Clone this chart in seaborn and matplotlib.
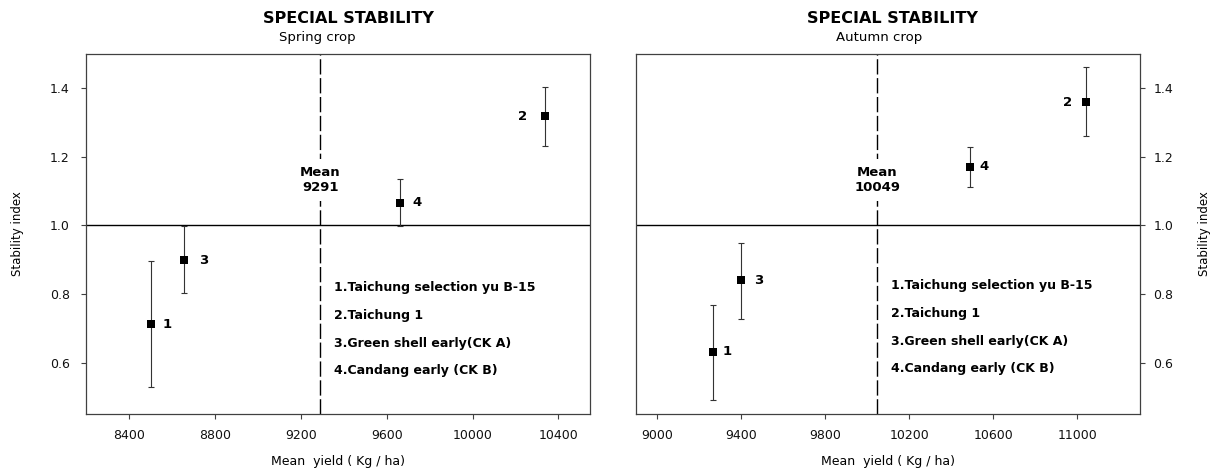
import matplotlib
matplotlib.use("Agg")
import matplotlib.pyplot as plt
import seaborn as sns
import pandas as pd

# values
point_ids = ["1", "2", "3", "4"]
varieties = ["1.Taichung selection yu B-15", "2.Taichung 1",
             "3.Green shell early(CK A)", "4.Candang early (CK B)"]

spring_yield = [8500, 10337, 8657, 9664]
spring_index = [0.712, 1.318, 0.899, 1.066]
spring_low = [0.529, 1.232, 0.804, 0.998]
spring_high = [0.897, 1.405, 0.999, 1.136]
spring_mean = 9291

autumn_yield = [9264, 11043, 9400, 10489]
autumn_index = [0.631, 1.360, 0.840, 1.171]
autumn_low = [0.491, 1.260, 0.728, 1.111]
autumn_high = [0.769, 1.461, 0.950, 1.230]
autumn_mean = 10049

spring_xticks = [8400, 8800, 9200, 9600, 10000, 10400]
autumn_xticks = [9000, 9400, 9800, 10200, 10600, 11000]
yticks = [0.6, 0.8, 1.0, 1.2, 1.4]

sns.set_style("ticks")
plt.rcParams['font.family'] = ['DejaVu Sans']
plt.rcParams['text.color'] = 'black'
plt.rcParams['axes.labelcolor'] = 'black'
plt.rcParams['xtick.labelcolor'] = '#111111'
plt.rcParams['ytick.labelcolor'] = '#111111'

fig = plt.figure(figsize=(12.16, 4.73), dpi=100)
ax_l = fig.add_axes([0.0711, 0.1247, 0.4145, 0.761])
ax_r = fig.add_axes([0.5231, 0.1247, 0.4145, 0.761])

frame_col = '#404040'


def draw_panel(ax, yld, idx, lo, hi, mean, xlim, xticks, label_dx, side):
    df = pd.DataFrame({'yield': yld, 'index': idx, 'lo': lo, 'hi': hi, 'id': point_ids})
    ax.axhline(1.0, color='black', lw=1, zorder=1)
    ax.axvline(mean, color='black', lw=1, linestyle=(0, (11, 2.6)), zorder=1)
    ax.errorbar(df['yield'], df['index'],
                yerr=[df['index'] - df['lo'], df['hi'] - df['index']],
                fmt='none', ecolor='#333333', elinewidth=0.8, capsize=2.5,
                capthick=0.8, zorder=2)
    sns.scatterplot(data=df, x='yield', y='index', marker='s', s=38,
                    color='black', linewidth=0, ax=ax, zorder=3)
    for i, row in df.iterrows():
        ax.annotate(row['id'], (row['yield'], row['index']),
                    xytext=(label_dx[i], 0), textcoords='offset pixels',
                    ha='center', va='center', fontsize=9.5, fontweight='bold')

    ax.text(mean, 1.132, "Mean\n" + str(mean), ha='center', va='center',
            fontsize=9.5, fontweight='bold', linespacing=1.15, zorder=4,
            bbox=dict(fc='white', ec='none', pad=5))

    leg_x = 0.491 if side == 'left' else 0.506
    leg_y = [0.352, 0.273, 0.196, 0.120] if side == 'left' else [0.357, 0.279, 0.202, 0.127]
    for txt, yy in zip(varieties, leg_y):
        ax.text(leg_x, yy, txt, transform=ax.transAxes, ha='left', va='center',
                fontsize=9, fontweight='bold')

    ax.set_xlim(*xlim)
    ax.set_ylim(0.45, 1.5)
    ax.set_xticks(xticks)
    ax.set_yticks(yticks)
    ax.set_xlabel("Mean  yield ( Kg / ha)", fontsize=9)
    ax.set_ylabel("Stability index", fontsize=8.5)
    ax.xaxis.set_label_coords(0.5, -0.131)
    ax.xaxis.label.set_va('center')

    for sp in ax.spines.values():
        sp.set_visible(True)
        sp.set_color(frame_col)
        sp.set_linewidth(0.9)

    ax.tick_params(axis='x', length=3.5, width=0.8, color=frame_col, pad=7.5,
                   labelsize=9, top=False)
    if side == 'left':
        ax.tick_params(axis='y', length=3.5, width=0.8, color=frame_col, pad=8.5,
                       labelsize=9, left=True, right=False)
        ax.yaxis.set_label_coords(-0.136, 0.5)
    else:
        ax.yaxis.tick_right()
        ax.yaxis.set_label_position('right')
        ax.tick_params(axis='y', length=3.5, width=0.8, color=frame_col, pad=6,
                       labelsize=9, left=False, right=True)
        ax.yaxis.set_label_coords(1.127, 0.5)
        ax.yaxis.label.set_rotation(90)
    ax.yaxis.label.set_va('center')


draw_panel(ax_l, spring_yield, spring_index, spring_low, spring_high, spring_mean,
           (8200, 10550), spring_xticks, [16, -22, 19, 17], 'left')
draw_panel(ax_r, autumn_yield, autumn_index, autumn_low, autumn_high, autumn_mean,
           (8900, 11300), autumn_xticks, [14.5, -18.5, 18, 14], 'right')

fig.text(0.2868, 0.9613, "SPECIAL STABILITY", ha='center', va='center',
         fontsize=11.5, fontweight='bold')
fig.text(0.2607, 0.9211, "Spring crop", ha='center', va='center', fontsize=9.5)
fig.text(0.7339, 0.9613, "SPECIAL STABILITY", ha='center', va='center',
         fontsize=11.5, fontweight='bold')
fig.text(0.7229, 0.9211, "Autumn crop", ha='center', va='center', fontsize=9.5)

fig.savefig('out.png', dpi=100, facecolor='white')
